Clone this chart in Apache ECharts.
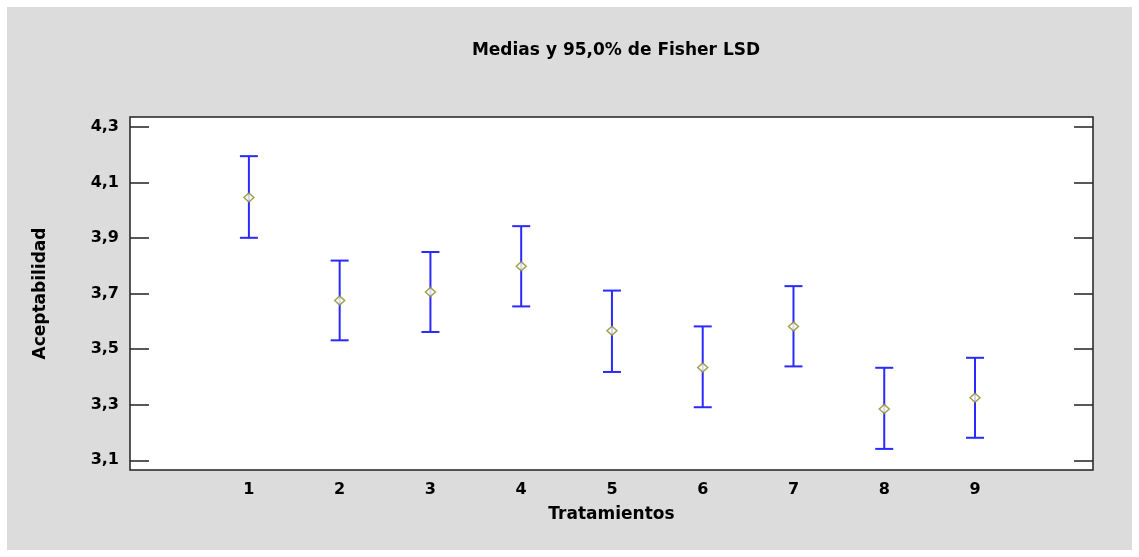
<!DOCTYPE html>
<html>
<head>
<meta charset="utf-8">
<script src="https://cdn.jsdelivr.net/npm/echarts@6/dist/echarts.min.js"></script>
<style>
html, body { margin: 0; padding: 0; background: #fff; }
#main { width: 1139px; height: 557px; }
</style>
</head>
<body>
<div id="main"></div>
<script>
var tratamientos = [1, 2, 3, 4, 5, 6, 7, 8, 9];
var medias = [4.046, 3.675, 3.706, 3.799, 3.566, 3.434, 3.582, 3.285, 3.325];
var limInf = [3.901, 3.532, 3.562, 3.654, 3.418, 3.291, 3.438, 3.141, 3.181];
var limSup = [4.195, 3.819, 3.850, 3.943, 3.711, 3.582, 3.727, 3.433, 3.469];
var yTicks = [3.1, 3.3, 3.5, 3.7, 3.9, 4.1, 4.3];

var fuente = 'DejaVu Sans';
var barras = tratamientos.map(function (t, i) { return [t, limInf[i], limSup[i]]; });
var puntos = tratamientos.map(function (t, i) { return [t, medias[i]]; });

var myChart = echarts.init(document.getElementById('main'));
var option = {
	backgroundColor: '#ffffff',
	animation: false,
	graphic: [{
		type: 'rect',
		z: -10,
		shape: { x: 7, y: 7, width: 1125, height: 543 },
		style: { fill: '#dcdcdc' }
	}],
	title: {
		text: 'Medias y 95,0% de Fisher LSD',
		left: 611, top: 37, textAlign: 'center',
		textStyle: { fontFamily: fuente, fontSize: 17, fontWeight: 'bold', color: '#000' }
	},
	grid: {
		left: 130, right: 46, top: 117, bottom: 87,
		show: true, backgroundColor: '#fff', borderColor: '#222', borderWidth: 1.5
	},
	xAxis: {
		type: 'value', min: -0.31, max: 10.3,
		name: 'Tratamientos', nameLocation: 'middle', nameGap: 36,
		nameTextStyle: { fontFamily: fuente, fontSize: 17, fontWeight: 'bold', color: '#000' },
		axisLine: { show: false, onZero: false }, axisTick: { show: false }, splitLine: { show: false },
		axisLabel: {
			customValues: tratamientos, margin: 12,
			fontFamily: fuente, fontSize: 16, fontWeight: 'bold', color: '#000'
		}
	},
	yAxis: [{
		type: 'value', min: 3.065, max: 4.336, position: 'left',
		name: 'Aceptabilidad', nameLocation: 'middle', nameGap: 81, nameRotate: 90,
		nameTextStyle: { fontFamily: fuente, fontSize: 17, fontWeight: 'bold', color: '#000' },
		axisLine: { show: false, onZero: false }, splitLine: { show: false },
		axisTick: { customValues: yTicks, inside: true, length: 19, lineStyle: { color: '#222', width: 1.5 } },
		axisLabel: {
			customValues: yTicks, margin: 11,
			formatter: function (v) { return v.toFixed(1).replace('.', ','); },
			fontFamily: fuente, fontSize: 16, fontWeight: 'bold', color: '#000'
		}
	}, {
		type: 'value', min: 3.065, max: 4.336, position: 'right',
		axisLine: { show: false, onZero: false }, splitLine: { show: false }, axisLabel: { show: false },
		axisTick: { customValues: yTicks, inside: true, length: 19, lineStyle: { color: '#222', width: 1.5 } }
	}],
	series: [{
		type: 'custom',
		data: barras,
		z: 2,
		renderItem: function (params, api) {
			var x = api.value(0);
			var lo = api.coord([x, api.value(1)]);
			var hi = api.coord([x, api.value(2)]);
			var w = 9;
			var st = { stroke: '#2a2aff', lineWidth: 2 };
			return {
				type: 'group',
				children: [
					{ type: 'line', shape: { x1: lo[0], y1: lo[1], x2: hi[0], y2: hi[1] }, style: st },
					{ type: 'line', shape: { x1: lo[0] - w, y1: lo[1], x2: lo[0] + w, y2: lo[1] }, style: st },
					{ type: 'line', shape: { x1: hi[0] - w, y1: hi[1], x2: hi[0] + w, y2: hi[1] }, style: st }
				]
			};
		}
	}, {
		type: 'scatter',
		data: puntos,
		z: 3,
		symbol: 'diamond',
		symbolSize: [10, 9],
		itemStyle: { color: '#ffffff', borderColor: '#8c8c28', borderWidth: 1.5 }
	}]
};
myChart.setOption(option);
</script>
</body>
</html>
